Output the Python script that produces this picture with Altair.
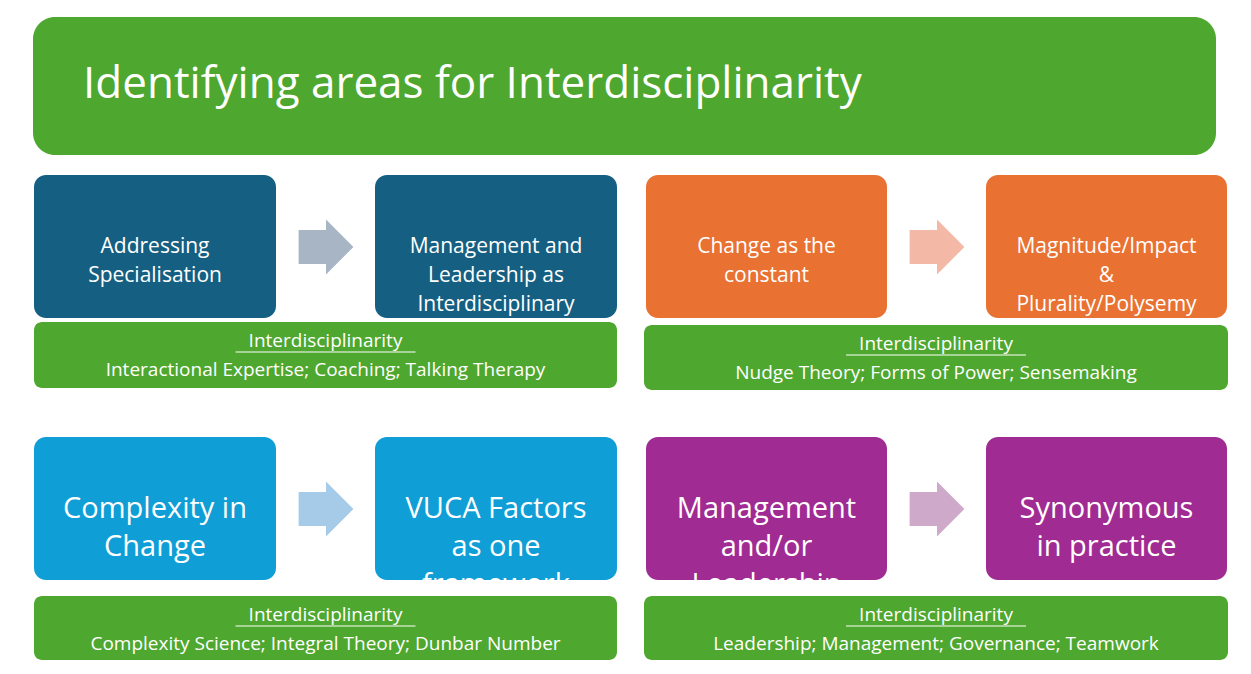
import altair as alt
import pandas as pd

FONT = "Open Sans"
GREEN = "#4ea72e"

# boxes: label, x0, x1, y0, y1, fill, font size
box_labels = [
    "Addressing\nSpecialisation",
    "Management and\nLeadership as\nInterdisciplinary\nendeavours.",
    "Change as the\nconstant",
    "Magnitude/Impact\n&\nPlurality/Polysemy",
    "Complexity in\nChange",
    "VUCA Factors\nas one\nframework",
    "Management\nand/or\nLeadership",
    "Synonymous\nin practice",
]
box_x0 = [34, 375, 646, 986, 34, 375, 646, 986]
box_x1 = [276, 617, 887, 1227, 276, 617, 887, 1227]
box_y0 = [175, 175, 175, 175, 437, 437, 437, 437]
box_y1 = [318, 318, 318, 318, 580, 580, 580, 580]
box_fill = ["#156082", "#156082", "#e97132", "#e97132",
            "#0f9ed5", "#0f9ed5", "#a02b93", "#a02b93"]
box_size = [21, 21, 21, 21, 29, 29, 29, 29]

arrow_x = [326, 937, 326, 937]
arrow_y = [247, 247, 509, 509]
arrow_fill = ["#a7b5c5", "#f4b9a6", "#a6cbe8", "#cfa9c9"]

sub_lines = [
    "Interactional Expertise; Coaching; Talking Therapy",
    "Nudge Theory; Forms of Power; Sensemaking",
    "Complexity Science; Integral Theory; Dunbar Number",
    "Leadership; Management; Governance; Teamwork",
]
sub_x0 = [34, 644, 34, 644]
sub_x1 = [617, 1228, 617, 1228]
sub_y0 = [322, 325, 596, 596]
sub_y1 = [388, 390, 660, 660]

title_text = "Identifying areas for Interdisciplinarity"

X = alt.Scale(domain=[8, 1243], range=[0, 1235])
Y = alt.Scale(domain=[8, 666], reverse=True)
ax = dict(axis=None)

boxes = pd.DataFrame({"label": box_labels, "x0": box_x0, "x1": box_x1,
                      "y0": box_y0, "y1": box_y1, "fill": box_fill, "size": box_size})
boxes["cx"] = (boxes.x0 + boxes.x1) / 2
boxes["cy"] = (boxes.y0 + boxes.y1) / 2

subs = pd.DataFrame({"line": sub_lines, "x0": sub_x0, "x1": sub_x1, "y0": sub_y0, "y1": sub_y1})
subs["cx"] = (subs.x0 + subs.x1) / 2
subs["ty"] = subs.y0 + 19
subs["by"] = subs.y0 + 48
subs["ux0"] = subs.cx - 90
subs["ux1"] = subs.cx + 90
subs["uy"] = subs.y0 + 30
subs["head"] = "Interdisciplinarity"

arrows = pd.DataFrame({"x": arrow_x, "y": arrow_y, "fill": arrow_fill})
title = pd.DataFrame({"x0": [33], "x1": [1216], "y0": [17], "y1": [155], "t": [title_text]})

title_rect = alt.Chart(title).mark_rect(cornerRadius=22, color=GREEN).encode(
    x=alt.X("x0:Q", scale=X, **ax), x2="x1", y=alt.Y("y0:Q", scale=Y, **ax), y2="y1")
title_txt = alt.Chart(title).mark_text(
    align="left", baseline="middle", font=FONT, fontSize=44, color="white", dx=50, dy=-8
).encode(x=alt.X("x0:Q", scale=X, **ax), y=alt.Y("y0:Q", scale=Y, **ax), text="t",
         ).transform_calculate(y0="93")

box_rect = alt.Chart(boxes).mark_rect(cornerRadius=12).encode(
    x=alt.X("x0:Q", scale=X, **ax), x2="x1", y=alt.Y("y0:Q", scale=Y, **ax), y2="y1",
    color=alt.Color("fill:N", scale=None))
box_txt = alt.Chart(boxes).mark_text(
    align="center", baseline="middle", font=FONT, color="white", lineBreak="\n"
).encode(x=alt.X("cx:Q", scale=X, **ax), y=alt.Y("cy:Q", scale=Y, **ax), text="label",
         size=alt.Size("size:Q", scale=None))
# line height depends on size: draw separately per size group
box_txt_small = box_txt.transform_filter("datum.size < 25").mark_text(
    align="center", baseline="middle", font=FONT, color="white", lineBreak="\n",
    fontSize=21, lineHeight=29)
box_txt_big = box_txt.transform_filter("datum.size >= 25").mark_text(
    align="center", baseline="middle", font=FONT, color="white", lineBreak="\n",
    fontSize=29, lineHeight=38)

arrow_path = "M-1,-0.62L0.0,-0.62L0.0,-1L1,0L0.0,1L0.0,0.62L-1,0.62Z"
arrow_mk = alt.Chart(arrows).mark_point(shape=arrow_path, filled=True, opacity=1, size=3000).encode(
    x=alt.X("x:Q", scale=X, **ax), y=alt.Y("y:Q", scale=Y, **ax), color=alt.Color("fill:N", scale=None))

sub_rect = alt.Chart(subs).mark_rect(cornerRadius=8, color=GREEN).encode(
    x=alt.X("x0:Q", scale=X, **ax), x2="x1", y=alt.Y("y0:Q", scale=Y, **ax), y2="y1")
sub_head = alt.Chart(subs).mark_text(font=FONT, fontSize=19, color="white", baseline="middle").encode(
    x=alt.X("cx:Q", scale=X, **ax), y=alt.Y("ty:Q", scale=Y, **ax), text="head")
sub_ul = alt.Chart(subs).mark_rule(color="white", strokeWidth=1.2).encode(
    x=alt.X("ux0:Q", scale=X, **ax), x2="ux1", y=alt.Y("uy:Q", scale=Y, **ax))
sub_body = alt.Chart(subs).mark_text(font=FONT, fontSize=19, color="white", baseline="middle").encode(
    x=alt.X("cx:Q", scale=X, **ax), y=alt.Y("by:Q", scale=Y, **ax), text="line")

chart = alt.layer(
    title_rect, title_txt, box_rect, box_txt_small, box_txt_big, arrow_mk,
    sub_rect, sub_head, sub_ul, sub_body
).properties(width=1235, height=658, padding=0, autosize="none").configure_view(stroke=None)

chart.save("out.html", embed_options={"renderer": "svg", "actions": False})
